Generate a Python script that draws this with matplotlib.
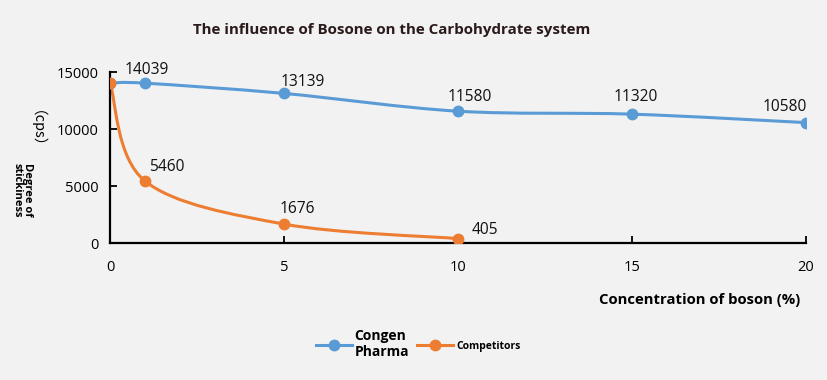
#!/usr/bin/env python3
import matplotlib
matplotlib.use('Agg')
import matplotlib.pyplot as plt
from matplotlib.path import Path
from matplotlib.patches import PathPatch
from matplotlib.lines import Line2D

# data
congen_x = [0, 1, 5, 10, 15, 20]
congen_y = [14039, 14039, 13139, 11580, 11320, 10580]
competitor_x = [0, 1, 5, 10]
competitor_y = [14039, 5460, 1676, 405]
x_ticks = [0, 5, 10, 15, 20]
y_ticks = [0, 5000, 10000, 15000]

# which points get a value label and where (offset in points)
congen_labels = {1: (1.5, 3.6), 5: (13.7, 2.2), 10: (8.6, 4.3), 15: (3, 6.5), 20: (-15, 5.8)}
competitor_labels = {1: (16, 4.3), 5: (9.4, 5), 10: (19.4, 0.7)}

BLUE = '#5b9bd5'
ORANGE = '#ed7d31'
BG = '#f2f2f2'

plt.rcParams['font.family'] = ['Open Sans', 'DejaVu Sans']


def smooth_path(xs, ys):
    """Excel-like smoothed line: cubic Bezier segments through the points."""
    pts = list(zip(xs, ys))
    n = len(pts)
    verts = [pts[0]]
    codes = [Path.MOVETO]
    for i in range(n - 1):
        p0 = pts[i - 1] if i > 0 else pts[i]
        p1 = pts[i]
        p2 = pts[i + 1]
        p3 = pts[i + 2] if i + 2 < n else pts[i + 1]
        c1 = (p1[0] + (p2[0] - p0[0]) / 6, p1[1] + (p2[1] - p0[1]) / 6)
        c2 = (p2[0] - (p3[0] - p1[0]) / 6, p2[1] - (p3[1] - p1[1]) / 6)
        verts += [c1, c2, p2]
        codes += [Path.CURVE4] * 3
    return Path(verts, codes)


fig = plt.figure(figsize=(8.28, 3.8), dpi=100, facecolor=BG)
ax = fig.add_axes([0.133, 0.36, 0.84, 0.45], facecolor=BG)

for xs, ys, col in [(congen_x, congen_y, BLUE), (competitor_x, competitor_y, ORANGE)]:
    ax.add_patch(PathPatch(smooth_path(xs, ys), facecolor='none', edgecolor=col,
                           linewidth=2.2, transform=ax.transData, zorder=2,
                           capstyle='round'))
    ax.plot(xs, ys, 'o', color=col, markersize=7.5, zorder=3, linestyle='none')

for xs, ys, labels in [(congen_x, congen_y, congen_labels),
                       (competitor_x, competitor_y, competitor_labels)]:
    for x, y in zip(xs, ys):
        if x in labels:
            ax.annotate(f'{y}', (x, y), xytext=labels[x], textcoords='offset points',
                        ha='center', va='bottom', fontsize=11.2, color='#111111')

ax.set_xlim(0, 20)
ax.set_ylim(0, 15000)
ax.set_xticks(x_ticks)
ax.set_yticks(y_ticks)
ax.tick_params(direction='in', length=5, width=1.3, labelsize=10.5, colors='black')
ax.tick_params(axis='x', pad=12)
ax.tick_params(axis='y', pad=8)
for side in ['top', 'right']:
    ax.spines[side].set_visible(False)
for side in ['left', 'bottom']:
    ax.spines[side].set_linewidth(1.6)

fig.text(0.473, 0.92, 'The influence of Bosone on the Carbohydrate system',
         ha='center', va='center', fontsize=10.9, fontweight='bold', color='#2a1a1a')
fig.text(0.966, 0.21, 'Concentration of boson (%)', ha='right', va='center',
         fontsize=10.7, fontweight='bold')
fig.text(0.036, 0.642, '（cps）', rotation=-90, ha='center', va='center',
         fontsize=10.5, family=['Noto Sans CJK SC', 'DejaVu Sans'])
fig.text(0.027, 0.5, 'Degree of\nstickiness', rotation=-90, ha='center', va='center',
         fontsize=8, fontweight='bold', linespacing=1.0)

handles = [Line2D([], [], color=BLUE, marker='o', markersize=7.5, linewidth=2.2),
           Line2D([], [], color=ORANGE, marker='o', markersize=7.5, linewidth=2.2)]
leg = fig.legend(handles, ['Congen\nPharma', 'Competitors'], loc='center',
                 bbox_to_anchor=(0.505, 0.095), ncol=2, frameon=False,
                 handlelength=2.6, handletextpad=0.2, columnspacing=0.6,
                 prop={'weight': 'bold', 'size': 10})
leg.get_texts()[1].set_fontsize(7.5)

fig.savefig('out.png', dpi=100, facecolor=BG)
